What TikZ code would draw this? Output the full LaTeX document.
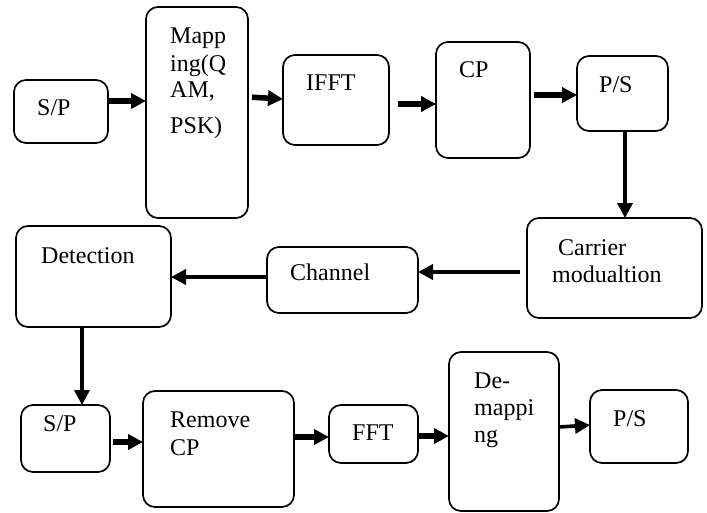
\documentclass[tikz,border=0pt]{standalone}
\usepackage{fontspec}
\setmainfont{Liberation Serif}
\usetikzlibrary{arrows.meta}
\begin{document}
\begin{tikzpicture}[x=1pt,y=-1pt,
  box/.style={draw,line width=1.7pt,rounded corners=12pt,inner sep=0pt,outer sep=0pt},
  txt/.style={anchor=base west,inner sep=0pt,font=\fontsize{24}{28}\selectfont},
  arr/.style={line width=5.5pt,-{Triangle[length=15pt,width=15pt]}},
  arrthin/.style={line width=3.6pt,-{Triangle[length=15pt,width=15pt]}}]
\useasboundingbox (0,0) rectangle (707,512);
% boxes
\node[box,minimum width=94pt,minimum height=63pt] (sp1) at (61,111.5) {};
\node[box,minimum width=102pt,minimum height=211pt] (map) at (197,112.5) {};
\node[box,minimum width=106pt,minimum height=90pt] (ifft) at (336,100) {};
\node[box,minimum width=94pt,minimum height=116pt] (cp) at (483,100) {};
\node[box,minimum width=91pt,minimum height=75pt] (ps1) at (622.5,93.5) {};
\node[box,minimum width=175pt,minimum height=100pt] (car) at (614.5,268) {};
\node[box,minimum width=151pt,minimum height=66pt] (chan) at (342.5,280) {};
\node[box,minimum width=155pt,minimum height=101pt] (det) at (93.5,276.5) {};
\node[box,minimum width=89pt,minimum height=67pt] (sp2) at (65.5,438.5) {};
\node[box,minimum width=151pt,minimum height=116pt] (rem) at (218.5,449) {};
\node[box,minimum width=89pt,minimum height=58pt] (fft) at (373.5,434) {};
\node[box,minimum width=110pt,minimum height=159pt] (dem) at (504,431.5) {};
\node[box,minimum width=98pt,minimum height=73pt] (ps2) at (639,426.5) {};
% texts
\node[txt] (tsp1) at (37,115) {S/P};
\node[txt] (tmap1) at (170,43) {Mapp};
\node[txt] (tmap2) at (170,71) {ing(Q};
\node[txt] (tmap3) at (170,97) {AM,};
\node[txt] (tmap4) at (170,133) {PSK)};
\node[txt] (tifft) at (306,90) {IFFT};
\node[txt] (tcp) at (459,77) {CP};
\node[txt] (tps1) at (599,92) {P/S};
\node[txt] (tcar1) at (558,255) {Carrier};
\node[txt] (tcar2) at (552,282) {modualtion};
\node[txt] (tchan) at (290,280) {Channel};
\node[txt] (tdet) at (41,263) {Detection};
\node[txt] (tsp2) at (43,431) {S/P};
\node[txt] (trem1) at (170,427) {Remove};
\node[txt] (trem2) at (170,455) {CP};
\node[txt] (tfft) at (352,440) {FFT};
\node[txt] (tdem1) at (474,388) {De-};
\node[txt] (tdem2) at (474,415) {mappi};
\node[txt] (tdem3) at (474,442) {ng};
\node[txt] (tps2) at (613,426) {P/S};
% connectors
\draw[arr] (sp1.east |- 0,101) -- (map.west |- 0,101);
\draw[arr,shorten <=4pt] (map.east |- 0,97) -- (ifft.west |- 0,99);
\draw[arr,shorten <=9pt] (ifft.east |- 0,104) -- (cp.west |- 0,104);
\draw[arr,shorten <=4pt] (cp.east |- 0,95) -- (ps1.west |- 0,95);
\draw[arrthin] (ps1.south -| 625,0) -- (car.north -| 625,0);
\draw[arrthin,shorten <=7pt] (car.west |- 0,272) -- (chan.east |- 0,272);
\draw[arrthin] (chan.west |- 0,277) -- (det.east |- 0,277);
\draw[arrthin] (det.south -| 82,0) -- (sp2.north -| 82,0);
\draw[arr,shorten <=3pt] (sp2.east |- 0,442) -- (rem.west |- 0,442);
\draw[arr] (rem.east |- 0,437) -- (fft.west |- 0,437);
\draw[arr] (fft.east |- 0,436) -- (dem.west |- 0,436);
\draw[arrthin] (dem.east |- 0,427) -- (ps2.west |- 0,425);
\end{tikzpicture}
\end{document}
